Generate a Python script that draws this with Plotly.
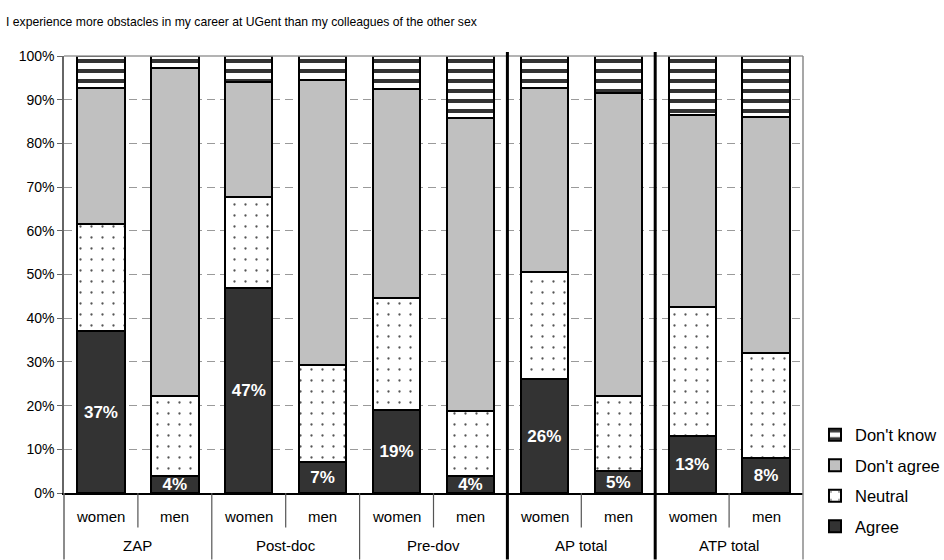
import plotly.graph_objects as go

# Survey groups and respondents' sex
groups = ["ZAP", "Post-doc", "Pre-dov", "AP total", "ATP total"]
sexes = ["women", "men"]

# Share of answers (%) per bar, ordered group by group: women, men
agree = [37, 4, 47, 7, 19, 4, 26, 5, 13, 8]
neutral = [24.5, 18.2, 20.8, 22.4, 25.7, 14.7, 24.6, 17.2, 29.6, 24.1]
dont_agree = [31.2, 75.0, 26.2, 65.1, 47.7, 67.2, 42.1, 69.3, 43.8, 53.9]
dont_know = [7.3, 2.8, 6.0, 5.5, 7.6, 14.1, 7.3, 8.5, 13.6, 14.0]

y_ticks = [0, 10, 20, 30, 40, 50, 60, 70, 80, 90, 100]
y_tick_labels = ["0%", "10%", "20%", "30%", "40%", "50%", "60%", "70%", "80%", "90%", "100%"]

title_text = "I experience more obstacles in my career at UGent than my colleagues of the other sex"

FONT = "Arial, Liberation Sans, sans-serif"
x_pos = list(range(len(groups) * len(sexes)))
bar_labels = [s for g in groups for s in sexes]

outline = dict(color="black", width=2)

fig = go.Figure()
fig.add_trace(go.Bar(
    x=x_pos, y=agree, name="Agree",
    marker=dict(color="#333333", line=outline),
    text=agree, texttemplate="%{text:.0f}%", textposition="inside",
    insidetextanchor="middle",
    textfont=dict(family=FONT, size=17, color="white", weight="bold"),
    legendgroup="a", legendrank=4,
))
fig.add_trace(go.Bar(
    x=x_pos, y=neutral, name="Neutral",
    marker=dict(color="white", line=outline,
                pattern=dict(shape=".", fgcolor="#555555", bgcolor="white",
                             size=11, solidity=0.035, fillmode="replace")),
    legendgroup="b", legendrank=3,
))
fig.add_trace(go.Bar(
    x=x_pos, y=dont_agree, name="Don't agree",
    marker=dict(color="#c0c0c0", line=outline),
    legendgroup="c", legendrank=2,
))
fig.add_trace(go.Bar(
    x=x_pos, y=dont_know, name="Don't know",
    marker=dict(color="white", line=outline,
                pattern=dict(shape="-", fgcolor="#333333", bgcolor="white",
                             size=10, solidity=0.4, fillmode="replace")),
    legendgroup="d", legendrank=1,
))

# Plot area geometry in pixels (used to express label rows in paper units)
W, H = 944, 560
L, R, T, B = 64, 141, 56, 66.5
plot_h = H - T - B
plot_w = W - L - R


def py(px_y):
    """Convert a page y pixel to a paper coordinate."""
    return (H - B - px_y) / plot_h


shapes = []
annotations = []

# Top and right frame of the plot area
shapes.append(dict(type="line", xref="paper", yref="paper", x0=0, x1=1, y0=1, y1=1,
                   line=dict(color="#9a9a9a", width=1.5)))
shapes.append(dict(type="line", xref="paper", yref="paper", x0=1, x1=1, y0=py(H), y1=1,
                   line=dict(color="#8a8a8a", width=1.5)))
# Left border of the label table
shapes.append(dict(type="line", xref="paper", yref="paper", x0=0, x1=0, y0=py(H), y1=0,
                   line=dict(color="#666666", width=1.5)))

n_sex = len(sexes)
for gi, g in enumerate(groups):
    first = gi * n_sex
    centre = first + (n_sex - 1) / 2
    annotations.append(dict(x=centre, y=py(546), xref="x", yref="paper", text=g,
                            xanchor="center", yanchor="middle",
                            showarrow=False, font=dict(family=FONT, size=15, color="black")))
    # short dividers between women / men inside a group
    for k in range(1, n_sex):
        shapes.append(dict(type="line", xref="x", yref="paper",
                           x0=first + k - 0.5, x1=first + k - 0.5, y0=py(528), y1=0,
                           line=dict(color="#555555", width=1.2)))
    # group dividers
    if gi > 0:
        bx = first - 0.5
        if g in ("AP total", "ATP total"):
            shapes.append(dict(type="line", xref="x", yref="paper", x0=bx, x1=bx,
                               y0=py(H), y1=py(52), line=dict(color="black", width=3)))
        else:
            shapes.append(dict(type="line", xref="x", yref="paper", x0=bx, x1=bx,
                               y0=py(H), y1=0, line=dict(color="#555555", width=1.2)))

for xi, lab in zip(x_pos, bar_labels):
    annotations.append(dict(x=xi, y=py(517), xref="x", yref="paper", text=lab,
                            xanchor="center", yanchor="middle",
                            showarrow=False, font=dict(family=FONT, size=15, color="black")))

fig.update_layout(
    width=W, height=H,
    margin=dict(l=L, r=R, t=T, b=B, pad=0, autoexpand=False),
    paper_bgcolor="white", plot_bgcolor="white",
    barmode="stack", bargap=0.36,
    uniformtext=dict(minsize=17, mode="show"),
    title=dict(text=title_text, x=6 / W, xref="container", xanchor="left",
               y=1 - 22 / H, yanchor="middle",
               font=dict(family=FONT, size=12.2, color="black")),
    legend=dict(x=(815 - L) / plot_w, xanchor="left", y=py(418), yanchor="top",
                traceorder="grouped", tracegroupgap=6,
                font=dict(family=FONT, size=16.5, color="black"),
                bgcolor="rgba(0,0,0,0)"),
    showlegend=True,
    shapes=shapes, annotations=annotations,
    xaxis=dict(range=[-0.5, len(x_pos) - 0.5], showticklabels=False, ticks="",
               showgrid=False, zeroline=False, showline=True, linecolor="black",
               linewidth=1.5, fixedrange=True),
    yaxis=dict(range=[0, 100], tickvals=y_ticks, ticktext=y_tick_labels, ticks="outside",
               ticklen=5, tickcolor="#666666", tickwidth=1,
               showline=True, linecolor="#666666", linewidth=1.5,
               showgrid=True, gridcolor="#9a9a9a", gridwidth=1, griddash="8px,5px",
               zeroline=False, tickfont=dict(family=FONT, size=14, color="black"),
               fixedrange=True),
)

fig.write_html("out.html")
